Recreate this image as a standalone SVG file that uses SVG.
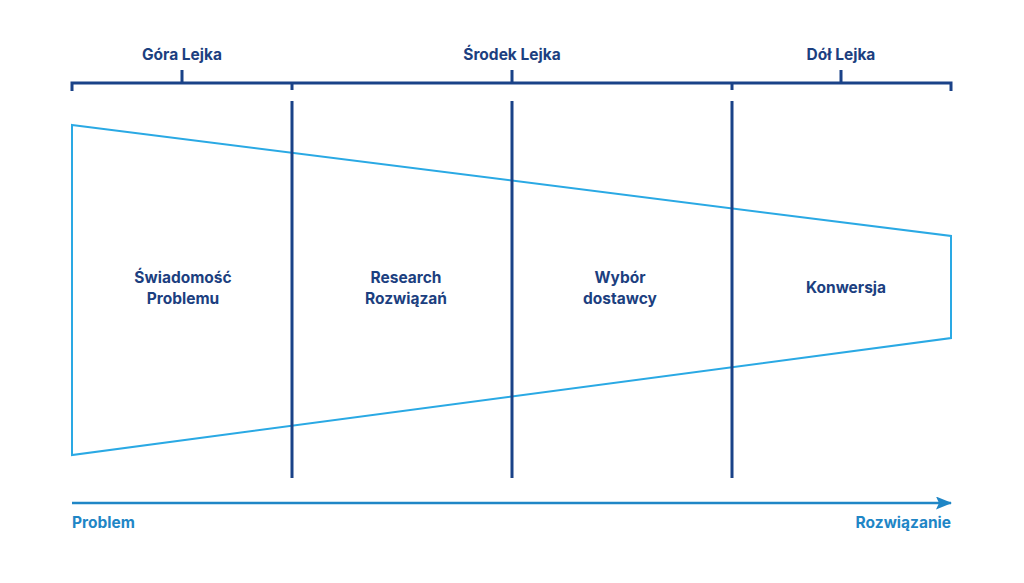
<svg xmlns="http://www.w3.org/2000/svg" width="1024" height="583" viewBox="0 0 1024 583">
<style>
.nav{stroke:#1a4288;stroke-width:3;fill:none;stroke-linecap:butt}
.t{font-family:Inter,"Noto Sans",sans-serif;font-weight:700;font-size:15.5px;fill:#1c3f80;text-anchor:middle}
.b{font-family:Inter,"Noto Sans",sans-serif;font-weight:700;font-size:15.5px;fill:#1f86c6}
</style>
<defs>
<marker id="ah" markerWidth="16" markerHeight="13" refX="15" refY="6.5" orient="auto" markerUnits="userSpaceOnUse">
<path d="M0,0 L16,6.5 L0,13 L3,6.5 Z" fill="#1f86c6"/>
</marker>
</defs>
<rect width="1024" height="583" fill="#ffffff"/>
<g id="bracket">
<path class="nav" d="M72,91 V83 H951 V91"/>
<path class="nav" d="M182,70 V83 M512,70 V83 M841,70 V83 M292,83 V90 M732,83 V90"/>
<text class="t" x="182" y="60">Góra Lejka</text>
<text class="t" x="512" y="60">Środek Lejka</text>
<text class="t" x="841" y="60">Dół Lejka</text>
</g>
<g id="funnel">
<polygon points="72,125 951,236 951,338 72,455" fill="none" stroke="#2aa9e4" stroke-width="2"/>
</g>
<g id="connectors">
<path class="nav" d="M292,101 V478 M512,101 V478 M732,101 V478"/>
<line x1="72" y1="503" x2="951" y2="503" stroke="#1f86c6" stroke-width="2.5" marker-end="url(#ah)"/>
</g>
<g id="stage1"><text class="t" x="183" y="283">Świadomość</text><text class="t" x="183" y="304">Problemu</text></g>
<g id="stage2"><text class="t" x="406" y="283">Research</text><text class="t" x="406" y="304">Rozwiązań</text></g>
<g id="stage3"><text class="t" x="620" y="283">Wybór</text><text class="t" x="620" y="304">dostawcy</text></g>
<g id="stage4"><text class="t" x="846" y="293">Konwersja</text></g>
<g id="axis">
<text class="b" x="72" y="528">Problem</text>
<text class="b" x="951" y="528" text-anchor="end">Rozwiązanie</text>
</g>
</svg>
